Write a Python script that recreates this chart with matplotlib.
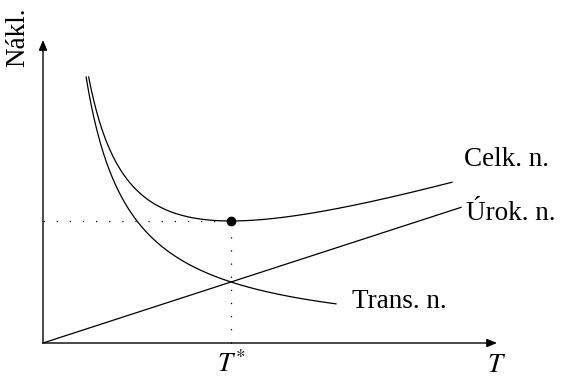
import numpy as np
import matplotlib.pyplot as plt

# model parameters (pixel-ish units, origin at the axes corner)
k_urok = 0.3245        # slope of the interest cost line
a_trans = 11470.0      # transport cost constant, cost = a / T
y_top = 266.0          # curves start at this height
t_urok_end = 418.0
t_trans_end = 293.0
t_celk_end = 409.0
x_axis_end = 454.0
y_axis_end = 303.0

labels = {"celk": "Celk. n.", "urok": "Úrok. n.", "trans": "Trans. n."}

fig = plt.figure(figsize=(5.74, 3.81), dpi=100)
ax = fig.add_axes([0, 0, 1, 1])
ax.set_xlim(-43, 531)
ax.set_ylim(-38, 343)
ax.axis('off')

serif = 'Liberation Serif'

# axes with arrows
ax.annotate('', xy=(x_axis_end, 0), xytext=(0, 0),
            arrowprops=dict(arrowstyle='-|>,head_length=0.6,head_width=0.25',
                            lw=1.0, color='black', shrinkA=0, shrinkB=0))
ax.annotate('', xy=(0, y_axis_end), xytext=(0, 0),
            arrowprops=dict(arrowstyle='-|>,head_length=0.6,head_width=0.25',
                            lw=1.0, color='black', shrinkA=0, shrinkB=0))

# interest cost
t1 = np.linspace(0, t_urok_end, 200)
ax.plot(t1, k_urok * t1, color='black', lw=0.9)

# transport cost
t2 = np.linspace(a_trans / y_top, t_trans_end, 400)
ax.plot(t2, a_trans / t2, color='black', lw=0.9)

# total cost
t_start = (y_top - np.sqrt(y_top**2 - 4 * k_urok * a_trans)) / (2 * k_urok)
t3 = np.linspace(t_start, t_celk_end, 400)
ax.plot(t3, k_urok * t3 + a_trans / t3, color='black', lw=0.9)

# optimum
t_opt = np.sqrt(a_trans / k_urok)
c_opt = 2 * np.sqrt(a_trans * k_urok)
ax.plot([0, t_opt], [c_opt, c_opt], color='black', lw=0.9, ls=(0, (1, 9.5)))
ax.plot([t_opt, t_opt], [0, c_opt], color='black', lw=0.9, ls=(0, (1, 9.5)))
ax.plot(t_opt, c_opt, 'o', color='black', ms=6)

fs = 19.5
ax.text(421, 183, labels["celk"], fontsize=fs, family=serif, va='center', ha='left')
ax.text(423, 130, labels["urok"], fontsize=fs, family=serif, va='center', ha='left')
ax.text(309, 41, labels["trans"], fontsize=fs, family=serif, va='center', ha='left')
ax.text(t_opt, -22, r'$T^{*}$', fontsize=fs, family=serif, ha='center', va='center',
        math_fontfamily='stix')
ax.text(x_axis_end, -22, r'$T$', fontsize=fs, family=serif, ha='center', va='center',
        math_fontfamily='stix')
ax.text(-25, 306, 'Nákl.', fontsize=fs, family=serif, rotation=90, ha='center', va='center')

fig.savefig('out.png', dpi=100)
